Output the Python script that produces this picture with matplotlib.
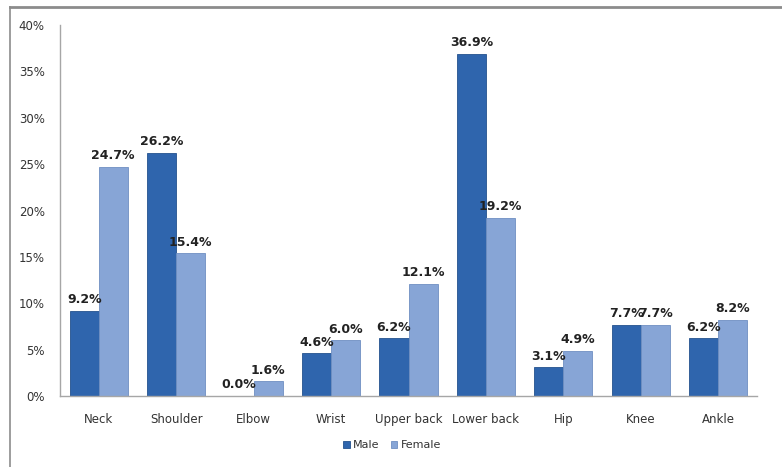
import numpy as np
import matplotlib
matplotlib.use('Agg')
import matplotlib.pyplot as plt
from matplotlib.lines import Line2D
from matplotlib.ticker import FuncFormatter

categories = ['Neck', 'Shoulder', 'Elbow', 'Wrist', 'Upper back', 'Lower back', 'Hip', 'Knee', 'Ankle']
male = [9.2, 26.2, 0.0, 4.6, 6.2, 36.9, 3.1, 7.7, 6.2]
female = [24.7, 15.4, 1.6, 6.0, 12.1, 19.2, 4.9, 7.7, 8.2]

maleColor = '#2f65ad'
femaleColor = '#87a5d6'

fig = plt.figure(figsize=(7.82, 4.67), dpi=100)
ax = fig.add_axes([60 / 782, 1 - 396 / 467, 697 / 782, 371 / 467])

x = np.arange(len(categories))
w = 0.375
barsM = ax.bar(x - w / 2, male, w, color=maleColor, edgecolor='#24528e', linewidth=0.6, label='Male')
barsF = ax.bar(x + w / 2, female, w, color=femaleColor, edgecolor='#6f8fc2', linewidth=0.6, label='Female')

for bars, vals in ((barsM, male), (barsF, female)):
    for b, v in zip(bars, vals):
        ax.text(b.get_x() + b.get_width() / 2, v + 0.5, '{:.1f}%'.format(v),
                ha='center', va='bottom', fontsize=9, fontweight='bold', color='#222222')

ax.set_xlim(-0.5, len(categories) - 0.5)
ax.set_ylim(0, 40)
ax.set_yticks(np.arange(0, 41, 5))
ax.yaxis.set_major_formatter(FuncFormatter(lambda v, p: '{:.0f}%'.format(v)))
ax.set_xticks(x)
ax.set_xticklabels(categories)
ax.tick_params(axis='both', length=0, labelsize=8.5, colors='#333333')
ax.tick_params(axis='x', pad=12)
ax.tick_params(axis='y', pad=11)
for s in ('top', 'right'):
    ax.spines[s].set_visible(False)
for s in ('left', 'bottom'):
    ax.spines[s].set_color('#a6a6a6')
    ax.spines[s].set_linewidth(1.0)

ax.legend(loc='center', bbox_to_anchor=(392 / 782, 1 - 445 / 467), bbox_transform=fig.transFigure,
          ncol=2, frameon=False, fontsize=8, handlelength=0.6, handleheight=0.6,
          handletextpad=0.3, columnspacing=1.0, labelcolor='#333333')

# chart border (top and left visible)
fig.add_artist(Line2D([10 / 782, 1], [1 - 7 / 467, 1 - 7 / 467], transform=fig.transFigure,
                      color='#8c8c8c', linewidth=2))
fig.add_artist(Line2D([10 / 782, 10 / 782], [0, 1 - 7 / 467], transform=fig.transFigure,
                      color='#8c8c8c', linewidth=1.2))

fig.savefig('out.png', dpi=100)
